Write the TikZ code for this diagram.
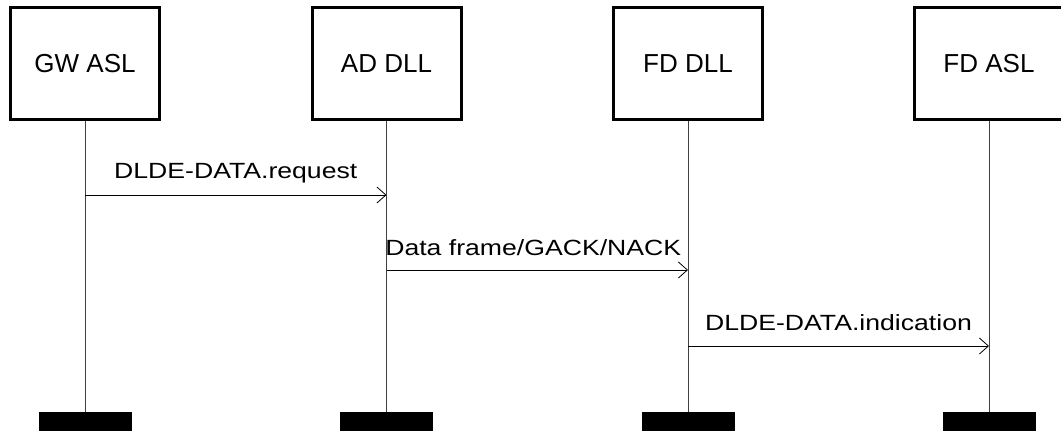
\documentclass[tikz,border=0pt]{standalone}
\usepackage{fontspec}
\setmainfont{Liberation Sans}
\usetikzlibrary{arrows.meta, positioning}

\begin{document}
\begin{tikzpicture}[x=1pt, y=-1pt, >={Straight Barb[length=9pt, width=16pt]},
    layer/.style={draw, line width=3pt, minimum width=149pt, minimum height=112pt, inner sep=0pt, font=\fontsize{26}{30}\selectfont},
    endbar/.style={fill=black, minimum width=93pt, minimum height=19pt, inner sep=0pt},
    life/.style={line width=0.9pt, black!75},
    msg/.style={->, line width=0.8pt},
    msglabel/.style={font=\fontsize{22}{26}\selectfont, inner sep=0pt, text depth=0pt}]

    \useasboundingbox (0,0) rectangle (1061,432);

    % the four layers on top:
    \node[layer] (gw)  at (85,63.5)    {GW ASL};
    \node[layer] (ad)  at (386.5,63.5) {AD DLL};
    \node[layer] (fdd) at (688,63.5)   {FD DLL};
    \node[layer] (fda) at (989,63.5)   {FD ASL};

    % black bars at the bottom:
    \node[endbar] (gwend)  at (85,421.5)    {};
    \node[endbar] (adend)  at (386.5,421.5) {};
    \node[endbar] (fddend) at (688,421.5)   {};
    \node[endbar] (fdaend) at (989,421.5)   {};

    % lifelines:
    \draw[life] (gw) -- (gwend);
    \draw[life] (ad) -- (adend);
    \draw[life] (fdd) -- (fddend);
    \draw[life] (fda) -- (fdaend);

    % points where the messages leave and arrive:
    \coordinate (gw1)  at (gw.center |- 0,195);
    \coordinate (ad1)  at (ad.center |- 0,195);
    \coordinate (ad2)  at (ad.center |- 0,270);
    \coordinate (fdd2) at (fdd.center |- 0,270);
    \coordinate (fdd3) at (fdd.center |- 0,346);
    \coordinate (fda3) at (fda.center |- 0,346);

    \draw[msg] (gw1) -- (ad1) node[msglabel, midway, above=16pt] {\scalebox{1.21}[1]{DLDE-DATA.request}};
    \draw[msg] (ad2) -- (fdd2) node[msglabel, midway, above=14pt, xshift=-4pt] {\scalebox{1.21}[1]{Data frame/GACK/NACK}};
    \draw[msg] (fdd3) -- (fda3) node[msglabel, midway, above=15pt] {\scalebox{1.21}[1]{DLDE-DATA.indication}};

\end{tikzpicture}
\end{document}
